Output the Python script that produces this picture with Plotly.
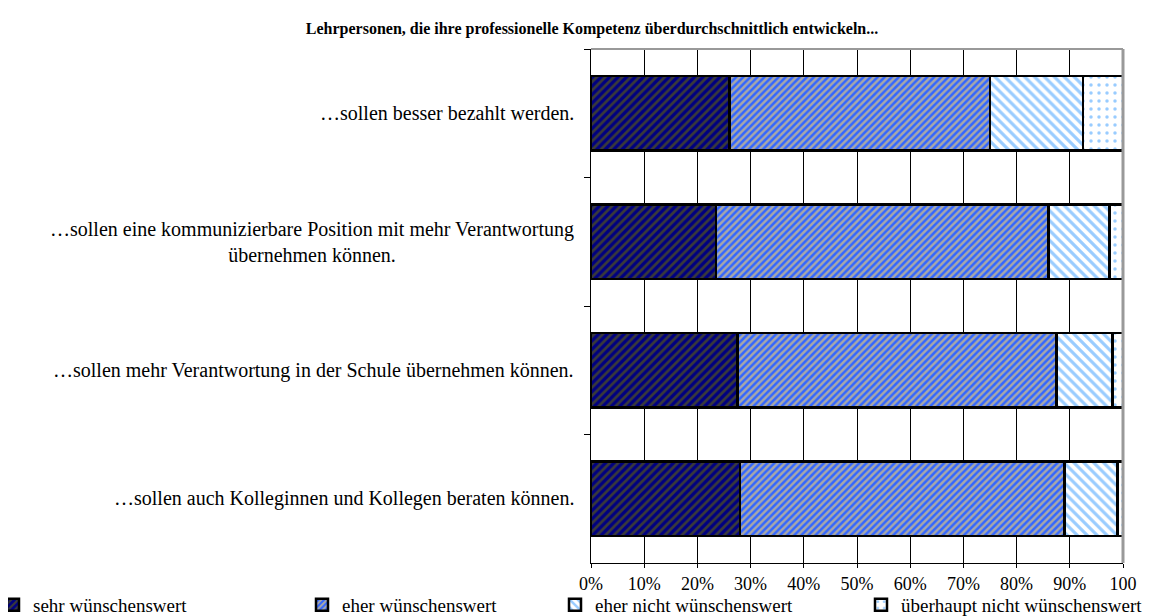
#!/usr/bin/env python3
# -*- coding: utf-8 -*-

"""
Stacked horizontal bars: Lehrpersonen mit überdurchschnittlicher Kompetenzentwicklung.
"""

import plotly.graph_objects as go


TITLE = "Lehrpersonen, die ihre professionelle Kompetenz überdurchschnittlich entwickeln..."

CATEGORIES = [
    "…sollen besser bezahlt werden.",
    "…sollen eine kommunizierbare Position mit mehr Verantwortung<br>übernehmen können.",
    "…sollen mehr Verantwortung in der Schule übernehmen können.",
    "…sollen auch Kolleginnen und Kollegen beraten können.",
]

SEHR = [26.0, 23.5, 27.5, 28.0]
EHER = [49.0, 62.5, 60.0, 61.0]
EHER_NICHT = [17.5, 11.5, 10.5, 10.0]
UEBERHAUPT_NICHT = [7.5, 2.5, 2.0, 1.0]

TICK_VALS = [0, 10, 20, 30, 40, 50, 60, 70, 80, 90, 100]
TICK_TEXT = ["0%", "10%", "20%", "30%", "40%", "50%", "60%", "70%", "80%", "90%", "100"]

# (name, values, bg, fg, shape, size, solidity, legend id)
SERIES = [
    ("sehr wünschenswert", SEHR, "#000080", "#3a3a3a", "/", 6, 0.45, "legend"),
    ("eher wünschenswert", EHER, "#3366FF", "#A8A8A8", "/", 5, 0.5, "legend2"),
    ("eher nicht wünschenswert", EHER_NICHT, "#FFFFFF", "#99CCFF", "\\", 7, 0.45, "legend3"),
    ("überhaupt nicht wünschenswert", UEBERHAUPT_NICHT, "#FFFFFF", "#99CCFF", ".", 8, 0.15, "legend4"),
]

FONT = "Liberation Serif, Times New Roman, serif"

W, H = 1152, 616
L, R, T, B = 583, 37, 41, 61

LEGEND_PX = [0, 294, 547, 853]
LEGEND_INDENT = [-15, 0, 0, 0]
LEGEND_Y_PX = 597


def build_figure() -> go.Figure:
    fig = go.Figure()
    for name, vals, bg, fg, shape, size, sol, leg in SERIES:
        fig.add_trace(
            go.Bar(
                name=name,
                y=CATEGORIES,
                x=vals,
                orientation="h",
                width=0.58,
                legend=leg,
                showlegend=True,
                marker=dict(
                    color=bg,
                    line=dict(color="black", width=2.5),
                    pattern=dict(shape=shape, bgcolor=bg, fgcolor=fg,
                                 size=size, solidity=sol, fillmode="replace"),
                ),
                hovertemplate="%{y}<br>" + name + ": %{x:.1f}%<extra></extra>",
            )
        )

    legends = {}
    for i, px in enumerate(LEGEND_PX):
        key = "legend" if i == 0 else f"legend{i + 1}"
        legends[key] = dict(
            visible=True,
            orientation="h",
            xref="container",
            yref="container",
            x=px / W,
            y=1 - LEGEND_Y_PX / H,
            xanchor="left",
            yanchor="middle",
            indentation=LEGEND_INDENT[i],
            font=dict(family=FONT, size=19, color="black"),
            bgcolor="rgba(0,0,0,0)",
            itemwidth=30,
        )

    fig.update_layout(
        width=W,
        height=H,
        barmode="stack",
        showlegend=True,
        plot_bgcolor="white",
        paper_bgcolor="white",
        font=dict(family=FONT, size=16, color="black"),
        margin=dict(l=L, r=R, t=T, b=B, autoexpand=False),
        title=dict(
            text="<b>" + TITLE + "</b>",
            font=dict(family=FONT, size=16, color="black"),
            x=584 / W,
            xanchor="center",
            xref="container",
            y=1 - 20 / H,
            yref="container",
            yanchor="middle",
        ),
        **legends,
    )

    fig.update_xaxes(
        range=[0, 100],
        tickmode="array",
        tickvals=TICK_VALS,
        ticktext=TICK_TEXT,
        showgrid=True,
        gridcolor="black",
        gridwidth=1,
        showline=True,
        linecolor="black",
        linewidth=1,
        ticks="outside",
        ticklen=4,
        tickcolor="black",
        tickfont=dict(family=FONT, size=18, color="black"),
        zeroline=False,
        fixedrange=True,
    )
    fig.update_yaxes(
        autorange="reversed",
        showticklabels=False,
        showline=True,
        linecolor="black",
        linewidth=1,
        ticks="outside",
        tickson="boundaries",
        ticklen=6,
        tickcolor="black",
        showgrid=False,
        fixedrange=True,
    )

    # top and right frame of the plot area
    fig.add_shape(type="line", xref="paper", yref="paper", x0=0, x1=1, y0=1, y1=1,
                  line=dict(color="#999999", width=2))
    fig.add_shape(type="line", xref="paper", yref="paper", x0=1, x1=1, y0=0, y1=1,
                  line=dict(color="#999999", width=3))

    # category labels (centered lines, right-aligned block)
    for cat in CATEGORIES:
        fig.add_annotation(
            x=0, xref="paper", y=cat, yref="y",
            text=cat, showarrow=False,
            xanchor="right", align="center", xshift=-15,
            font=dict(family=FONT, size=20, color="black"),
        )
    return fig


def main() -> None:
    fig = build_figure()
    fig.write_html("out.html")


if __name__ == "__main__":
    main()
